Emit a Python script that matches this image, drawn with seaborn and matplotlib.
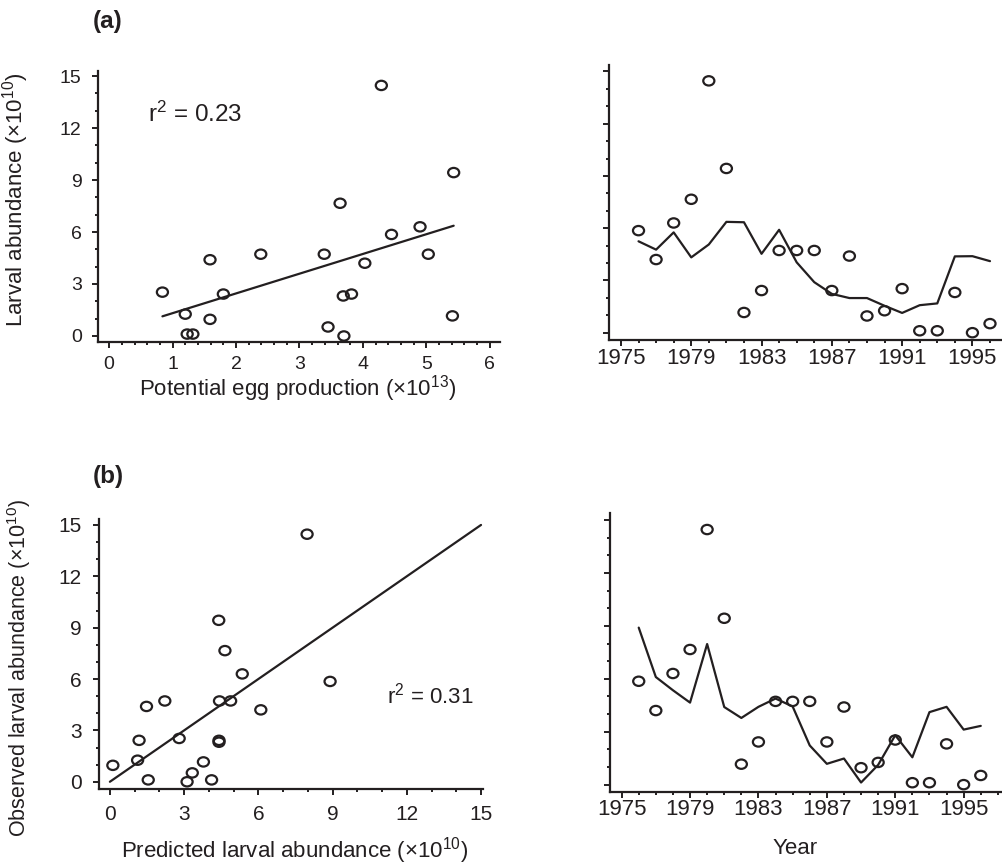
import numpy as np
import matplotlib
matplotlib.use("Agg")
import matplotlib.pyplot as plt
from matplotlib.path import Path
from matplotlib.transforms import Affine2D
from matplotlib.ticker import MultipleLocator
import seaborn as sns

# Survey years and larval data (abundance in units of 10^10)
years = list(range(1976, 1997))
observed = [5.86, 4.20, 6.30, 7.66, 14.46, 9.43, 1.16, 2.42, 4.72, 4.72, 4.72,
            2.42, 4.40, 0.96, 1.26, 2.53, 0.11, 0.11, 2.31, 0.00, 0.52]
# Potential egg production (units of 10^13)
egg_production = [4.45, 4.03, 4.90, 3.64, 4.29, 5.43, 5.41, 3.82, 5.03, 3.39, 2.39,
                  1.80, 1.59, 1.59, 1.20, 0.84, 1.23, 1.32, 3.69, 3.70, 3.45]
# Model-predicted larval abundance (units of 10^10)
predicted_b = [8.90, 6.10, 5.35, 4.65, 7.97, 4.40, 3.78, 4.41, 4.88, 4.43, 2.22,
               1.18, 1.48, 0.12, 1.12, 2.80, 1.55, 4.11, 4.41, 3.12, 3.33]
one_to_one = [0, 15]
r2_text = ["0.23", "0.31"]
year_ticks = [1975, 1979, 1983, 1987, 1991, 1995]

INK = "#231f20"

sns.set_style("ticks")
plt.rcParams["font.family"] = ["Liberation Sans", "DejaVu Sans"]
plt.rcParams["mathtext.fontset"] = "custom"
plt.rcParams["mathtext.rm"] = "Liberation Sans"
plt.rcParams["mathtext.default"] = "regular"
plt.rcParams["text.color"] = INK
plt.rcParams["axes.labelcolor"] = INK
plt.rcParams["xtick.color"] = INK
plt.rcParams["ytick.color"] = INK

# slightly flattened open circle marker
ring = Affine2D().scale(1.0, 0.84).transform_path(Path.unit_circle())

W, H = 1003, 865
fig = plt.figure(figsize=(W / 100, H / 100), dpi=100)


def place(left, right, top, bottom):
    return fig.add_axes([left / W, 1 - bottom / H, (right - left) / W, (bottom - top) / H])


def style(ax, xmaj, xmin, ylabels=True, tick_fs=14, xpad=7, ypad=7):
    ax.spines[["top", "right"]].set_visible(False)
    for s in ("left", "bottom"):
        ax.spines[s].set_linewidth(1.6)
        ax.spines[s].set_color(INK)
    ax.yaxis.set_major_locator(MultipleLocator(3))
    ax.yaxis.set_minor_locator(MultipleLocator(1))
    ax.xaxis.set_major_locator(xmaj)
    ax.xaxis.set_minor_locator(xmin)
    ax.tick_params(which="major", length=4.5, width=1.4, direction="out", labelsize=tick_fs)
    ax.tick_params(which="minor", length=2.3, width=1.4, direction="out")
    ax.tick_params(axis="y", which="major", length=4.5, pad=ypad, labelleft=ylabels)
    ax.tick_params(axis="x", which="major", pad=xpad)


def dots(ax, x, y):
    sns.scatterplot(x=x, y=y, ax=ax, marker=ring, s=64, facecolor="none",
                    edgecolor=INK, linewidth=1.6, zorder=3)


# ---- (a) stock–recruitment relationship ----
ax1 = place(97.7, 500, 70.7, 341.7)
dots(ax1, egg_production, observed)
sns.regplot(x=egg_production, y=observed, ax=ax1, scatter=False, ci=None, truncate=True,
            line_kws=dict(color=INK, lw=1.6))
ax1.set_xlim(-0.18, 6.16)
ax1.set_ylim(-0.33, 15.31)
style(ax1, MultipleLocator(1), MultipleLocator(0.2), tick_fs=14, xpad=6, ypad=7)
ax1.set_xticks(range(0, 7))
ax1.set_xlabel("Potential egg production (×10$^{13}$)", fontsize=16)
ax1.set_ylabel("Larval abundance (×10$^{10}$)", fontsize=16)
ax1.xaxis.set_label_coords(0.498, -0.115)
ax1.yaxis.set_label_coords(-0.165, 0.523)
ax1.text(0.61, 12.35, "r$^{2}$ = " + r2_text[0], fontsize=17.5, ha="left", va="baseline")

slope, intercept = np.polyfit(egg_production, observed, 1)
pred_a = [intercept + slope * e for e in egg_production]

ax2 = place(609, 1003, 65, 340)
sns.lineplot(x=years, y=pred_a, ax=ax2, color=INK, lw=1.6)
dots(ax2, years, observed)
ax2.set_xlim(1974.32, 1996.74)
ax2.set_ylim(-0.42, 15.37)
style(ax2, MultipleLocator(4), MultipleLocator(1), ylabels=False, tick_fs=16, xpad=1)
ax2.set_xticks(year_ticks)
ax2.set_xlabel("")
ax2.set_ylabel("")

# ---- (b) predicted vs observed ----
ax3 = place(99, 483, 519.3, 789.3)
sns.lineplot(x=one_to_one, y=one_to_one, ax=ax3, color=INK, lw=1.6)
dots(ax3, predicted_b, observed)
ax3.set_xlim(-0.44, 15.08)
ax3.set_ylim(-0.44, 15.33)
style(ax3, MultipleLocator(3), MultipleLocator(1), tick_fs=15, xpad=7, ypad=8)
ax3.set_xlabel("Predicted larval abundance (×10$^{10}$)", fontsize=16)
ax3.set_ylabel("Observed larval abundance (×10$^{10}$)", fontsize=15.5)
ax3.xaxis.set_label_coords(0.510, -0.17)
ax3.yaxis.set_label_coords(-0.172, 0.449)
ax3.text(11.2, 4.55, "r$^{2}$ = " + r2_text[1], fontsize=16, ha="left", va="baseline")

ax4 = place(610, 1003, 513.3, 791.7)
sns.lineplot(x=years, y=predicted_b, ax=ax4, color=INK, lw=1.6)
dots(ax4, years, observed)
ax4.set_xlim(1974.32, 1997.3)
ax4.set_ylim(-0.40, 15.38)
style(ax4, MultipleLocator(4), MultipleLocator(1), ylabels=False, tick_fs=16, xpad=1)
ax4.set_xticks(year_ticks)
ax4.set_xlabel("Year", fontsize=16)
ax4.set_ylabel("")
ax4.xaxis.set_label_coords(0.471, -0.165)

fig.text(93 / W, 1 - 10 / H, "(a)", fontsize=17.5, fontweight="bold", va="top", ha="left")
fig.text(93 / W, 1 - 465 / H, "(b)", fontsize=17.5, fontweight="bold", va="top", ha="left")

fig.savefig("out.png", dpi=100, facecolor="white")
